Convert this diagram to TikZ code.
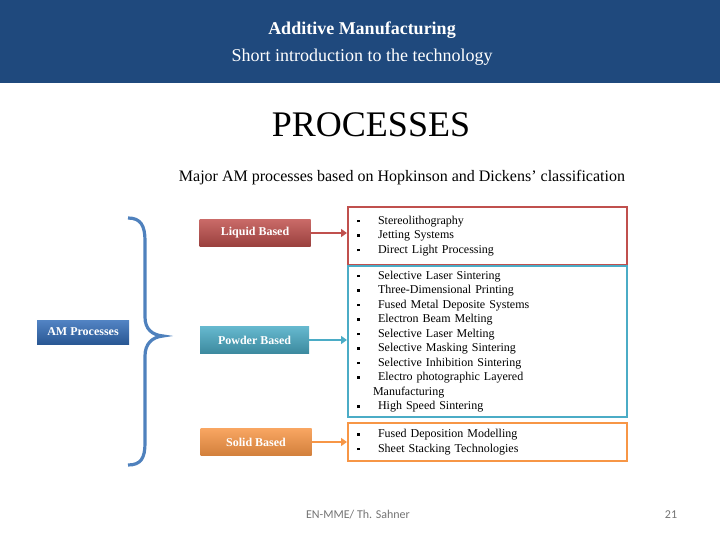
\documentclass[tikz,border=0pt]{standalone}
\usepackage{fontspec}
\setmainfont{Liberation Serif}
\newfontfamily\footfont{Carlito}
\usetikzlibrary{arrows.meta}

\definecolor{headblue}{RGB}{31,73,125}
\definecolor{bracecol}{RGB}{79,129,189}
\definecolor{amblue}{RGB}{52,110,185}
\definecolor{liqred}{RGB}{192,80,77}
\definecolor{powteal}{RGB}{75,172,198}
\definecolor{solorange}{RGB}{247,150,70}

\tikzset{
  catbox/.style={minimum width=111pt, minimum height=27pt, inner sep=0pt,
    text=white, font=\fontsize{12}{14}\selectfont\bfseries},
  listbox/.style={draw=#1, line width=2pt, minimum width=279pt, inner xsep=9pt,
    text width=261pt, align=left, font=\fontsize{12}{14.5}\selectfont},
  linkarrow/.style={draw=#1, line width=2pt, -{Triangle[length=6pt,width=8pt]}}
}
\newcommand{\bul}{\makebox[21pt][l]{\rule[2pt]{2.6pt}{2.6pt}}}

\begin{document}
\begin{tikzpicture}[x=1pt,y=-1pt]

        \useasboundingbox (0,0) rectangle (720,540);

        % header band
        \fill[headblue] (0,0) rectangle (720,83);
        \node[text=white, font=\fontsize{18}{20}\selectfont\bfseries] (title) at (362,30) {Additive Manufacturing};
        \node[text=white, font=\fontsize{18}{20}\selectfont] (subtitle) at (362,57) {Short introduction to the technology};

        \node[font=\fontsize{36}{40}\selectfont] (heading) at (371,125) {PROCESSES};
        \node[font=\fontsize{16}{18}\selectfont] (caption) at (402,178) {Major AM processes based on Hopkinson and Dickens' classification};

        % root and brace
        \node[catbox, minimum width=92pt, minimum height=24pt, top color=amblue!85!white, bottom color=amblue!80!black] (am) at (83,332) {AM Processes};
        \draw[bracecol, line width=3.2pt] (128,218) .. controls (141,218) and (145,226) .. (145,241) -- (145,317)
            .. controls (145,329) and (152,335) .. (163,336) .. controls (152,337) and (145,344) .. (145,356)
            -- (145,443) .. controls (145,458) and (141,465) .. (128,465);

        % categories
        \node[catbox, top color=liqred!85!white, bottom color=liqred!80!black] (liquid) at (255,233) {Liquid Based};
        \node[catbox, minimum width=109pt, top color=powteal!85!white, bottom color=powteal!80!black] (powder) at (254.5,340) {Powder Based};
        \node[catbox, top color=solorange!85!white, bottom color=solorange!85!black] (solid) at (256,442) {Solid Based};

        % process lists
        \node[listbox=liqred, minimum height=58pt] (liqlist) at (487.5,236) {\bul Stereolithography\\ \bul Jetting Systems\\ \bul Direct Light Processing};
        \node[listbox=powteal, minimum height=151pt] (powlist) at (487.5,341.5) {\bul Selective Laser Sintering\\ \bul Three-Dimensional Printing\\ \bul Fused Metal Deposite Systems\\ \bul Electron Beam Melting\\ \bul Selective Laser Melting\\ \bul Selective Masking Sintering\\ \bul Selective Inhibition Sintering\\ \bul Electro photographic Layered\\ \hspace*{16pt}Manufacturing\\ \bul High Speed Sintering};
        \node[listbox=solorange, minimum height=38pt] (sollist) at (487.5,442) {\bul Fused Deposition Modelling\\ \bul Sheet Stacking Technologies};

        \draw[linkarrow=liqred] (liquid.east) -- (liquid.east -| liqlist.west);
        \draw[linkarrow=powteal] (powder.east) -- (powder.east -| powlist.west);
        \draw[linkarrow=solorange] (solid.east) -- (solid.east -| sollist.west);

        % footer
        \node[text=black!55, font=\footfont\fontsize{12}{14}\selectfont] (author) at (358,515) {EN-MME/ Th. Sahner};
        \node[text=black!55, font=\footfont\fontsize{12}{14}\selectfont] (page) at (671,515) {21};
    \end{tikzpicture}
\end{document}
